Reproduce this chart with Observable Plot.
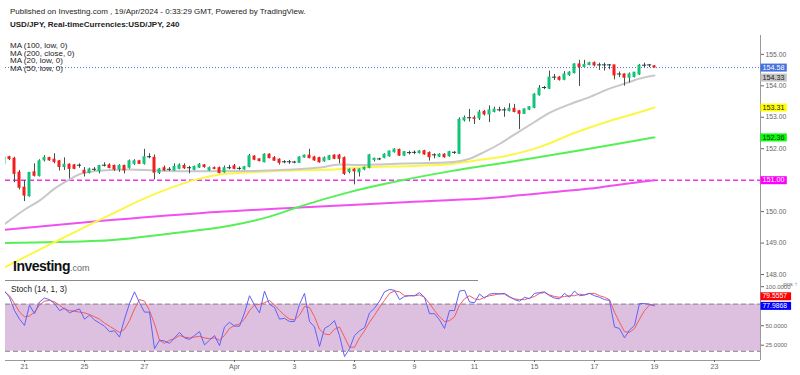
<!DOCTYPE html>
<html><head><meta charset="utf-8">
<script src="https://cdn.jsdelivr.net/npm/d3@7"></script>
<script src="https://cdn.jsdelivr.net/npm/@observablehq/plot@0.6"></script>
<style>
body{margin:0;background:#fff;}
#wrap{position:relative;width:800px;height:375px;overflow:hidden;font-family:"Liberation Sans",Arial,sans-serif;background:#fff;}
#wrap .abs{position:absolute;white-space:nowrap;}
.hdr{font-size:8px;line-height:8px;color:#222;}
.leg{font-size:8px;line-height:7.8px;color:#222;}
.logo{font-size:14px;line-height:14px;font-weight:bold;letter-spacing:-0.5px;color:#111;}
.logo span{font-size:9px;font-weight:normal;letter-spacing:0;color:#666;}
</style></head>
<body>
<div id="wrap">
  <div id="mainChart" class="abs" style="left:0;top:0"></div>
  <div id="stochChart" class="abs" style="left:0;top:278px"></div>
  <div class="abs hdr" style="left:10px;top:8px">Published on Investing.com , 19/Apr/2024 - 0:33:29 GMT, Powered by TradingView.</div>
  <div class="abs hdr" style="left:10px;top:21px;font-weight:bold">USD/JPY, Real-timeCurrencies:USD/JPY, 240</div>
  <div id="legend" class="abs leg" style="left:10px;top:41.8px"></div>
  <div class="abs logo" style="left:13px;top:259px">Investing<span>.com</span></div>
  <div id="stochTitle" class="abs" style="left:11px;top:286px;font-size:8.2px;line-height:8.2px;color:#222"></div>
</div>
<script>
// ---------- data ----------
const firstIdx = -4; // candle index of first row (Mar 20, 08:00); 6 candles per trading day
const ohlc = [
  [151.52,151.75,151.48,151.72],[151.73,151.76,151.62,151.67],[151.68,151.73,150.92,151.20],[151.24,151.31,150.69,150.76],
  [150.76,150.99,150.32,150.51],[150.49,151.25,150.46,151.23],[151.25,151.52,151.10,151.14],[151.13,151.65,151.10,151.60],
  [151.63,151.78,151.58,151.70],[151.70,151.73,151.60,151.63],[151.65,151.84,151.52,151.58],[151.60,151.63,151.29,151.42],
  [151.42,151.71,151.31,151.49],[151.49,151.52,151.04,151.36],[151.47,151.50,151.33,151.36],[151.46,151.52,151.38,151.46],
  [151.30,151.40,151.10,151.22],[151.23,151.38,151.20,151.34],[151.33,151.40,151.28,151.33],[151.29,151.47,151.20,151.45],
  [151.46,151.55,151.42,151.46],[151.47,151.52,151.36,151.39],[151.45,151.48,151.28,151.34],[151.34,151.49,151.25,151.45],
  [151.45,151.48,151.20,151.31],[151.39,151.64,151.35,151.60],[151.52,151.65,151.47,151.60],[151.60,151.63,151.50,151.52],
  [151.52,151.98,151.48,151.73],[151.73,151.84,151.68,151.73],[151.71,151.80,151.01,151.24],[151.23,151.37,151.18,151.34],
  [151.38,151.45,151.28,151.31],[151.33,151.40,151.28,151.33],[151.31,151.52,151.29,151.42],[151.36,151.52,151.33,151.47],
  [151.45,151.52,151.34,151.38],[151.38,151.44,151.20,151.38],[151.33,151.45,151.30,151.42],[151.40,151.53,151.37,151.49],
  [151.47,151.50,151.38,151.42],[151.31,151.42,151.28,151.38],[151.38,151.42,151.33,151.36],[151.38,151.42,151.20,151.23],
  [151.25,151.45,151.22,151.38],[151.38,151.47,151.33,151.38],[151.44,151.50,151.33,151.36],[151.36,151.42,151.31,151.36],
  [151.34,151.44,151.32,151.41],[151.42,151.82,151.39,151.76],[151.75,151.78,151.62,151.65],[151.66,151.68,151.58,151.61],
  [151.57,151.84,151.55,151.81],[151.81,151.84,151.68,151.70],[151.70,151.75,151.60,151.62],[151.65,151.68,151.48,151.55],
  [151.57,151.62,151.52,151.57],[151.57,151.63,151.50,151.57],[151.56,151.60,151.52,151.56],[151.55,151.75,151.53,151.72],
  [151.72,151.80,151.70,151.78],[151.78,151.98,151.68,151.70],[151.72,151.76,151.60,151.63],[151.70,151.73,151.54,151.57],
  [151.60,151.74,151.57,151.70],[151.65,151.79,151.62,151.76],[151.78,151.81,151.65,151.68],[151.78,151.82,151.52,151.68],
  [151.70,151.74,151.15,151.20],[151.26,151.36,151.20,151.33],[151.33,151.37,150.85,151.28],[151.25,151.36,151.10,151.34],
  [151.34,151.42,151.30,151.39],[151.39,151.82,151.36,151.79],[151.64,151.70,151.58,151.68],[151.66,151.70,151.62,151.66],
  [151.71,151.84,151.68,151.81],[151.76,151.93,151.73,151.91],[151.89,152.00,151.86,151.97],[151.96,151.99,151.76,151.78],
  [151.78,151.91,151.75,151.89],[151.86,151.92,151.80,151.86],[151.87,151.93,151.81,151.87],[151.86,151.94,151.83,151.91],
  [151.92,151.95,151.79,151.82],[151.86,151.90,151.61,151.73],[151.79,151.84,151.68,151.79],[151.75,151.84,151.72,151.81],
  [151.81,151.84,151.70,151.73],[151.76,151.92,151.73,151.89],[151.87,151.91,151.82,151.87],[151.84,152.98,151.82,152.92],
  [152.90,153.04,152.85,152.97],[152.97,153.25,152.85,152.97],[152.97,153.04,152.77,152.95],[152.97,153.22,152.90,153.15],
  [153.17,153.22,153.04,153.09],[153.09,153.36,152.83,153.22],[153.17,153.32,153.14,153.24],[153.22,153.32,153.17,153.22],
  [153.22,153.30,153.00,153.22],[153.20,153.43,153.17,153.27],[153.27,153.41,153.14,153.17],[153.19,153.22,152.61,153.11],
  [153.11,153.27,153.09,153.25],[153.24,153.34,153.21,153.32],[153.30,153.75,153.27,153.72],[153.70,154.01,153.67,153.91],
  [153.93,153.98,153.88,153.93],[153.91,154.47,153.88,154.26],[154.26,154.36,154.17,154.26],[154.26,154.30,154.15,154.19],
  [154.19,154.45,154.16,154.36],[154.34,154.45,154.30,154.42],[154.40,154.70,154.38,154.68],[154.68,154.81,153.98,154.60],
  [154.60,154.81,154.58,154.66],[154.66,154.75,154.64,154.72],[154.72,154.76,154.60,154.65],[154.65,154.72,154.49,154.65],
  [154.65,154.72,154.47,154.65],[154.65,154.68,154.51,154.65],[154.65,154.65,154.19,154.33],[154.36,154.44,154.26,154.36],
  [154.36,154.38,153.99,154.26],[154.26,154.41,154.09,154.36],[154.28,154.42,154.25,154.42],[154.36,154.68,154.33,154.64],
  [154.64,154.72,154.58,154.64],[154.65,154.68,154.58,154.65],[154.62,154.64,154.57,154.58]
];
// moving averages read at [candle index, price]
const ma20 = [[-4,149.60],[0,150.06],[3,150.35],[6,150.73],[9,151.02],[11,151.19],[15,151.30],[21,151.34],[26,151.31],[35,151.28],[45,151.29],[52,151.33],[59,151.40],[63,151.50],[67,151.48],[72,151.51],[79,151.54],[85,151.57],[89,151.68],[92,151.90],[95,152.15],[97,152.35],[102,152.85],[105,153.14],[109,153.41],[113,153.64],[117,153.91],[121,154.12],[123,154.23],[126,154.33]];
const ma50 = [[-4,148.23],[6,149.03],[14,149.66],[19,150.04],[23,150.35],[27,150.62],[35,151.05],[39,151.18],[45,151.25],[52,151.30],[62,151.34],[65,151.38],[79,151.46],[85,151.51],[90,151.62],[97,151.79],[103,152.05],[110,152.50],[117,152.88],[123,153.16],[126,153.31]];
const ma100 = [[-4,149.00],[15,149.07],[29,149.30],[41,149.55],[49,149.84],[55,150.16],[65,150.62],[75,150.98],[85,151.28],[97,151.58],[110,151.92],[123,152.28],[126,152.36]];
const ma200 = [[-4,149.42],[15,149.70],[35,149.95],[55,150.13],[75,150.29],[95,150.46],[107,150.64],[115,150.77],[123,150.94],[126,151.00]];
const stochK = [97,89,72,61,53,79,68,83,88,86, 81,72,75,69,72,74,61,66,60,56, 52,45,46,38,61,81,96,82,70,70, 23,34,33,30,37,44,37,35,40,45,
  28,34,40,27,51,57,52,52,69,91, 79,69,97,80,76,61,62,58,58,80, 94,58,51,26,49,53,59,40,13,23, 40,46,50,69,75,84,96,99,98,86,
  90,91,91,95,89,68,68,60,49,72, 72,97,98,83,82,93,88,93,94,93, 94,90,86,84,89,87,94,95,96,91, 88,87,94,89,97,91,92,94,91,89,
  86,85,51,49,37,47,53,81,81,80,77.99];
const stochD = [96,91,81,70,64,65,70,79,84,85, 83,79,74,72,71,70,69,67,64,61, 56,52,48,44,48,59,74,86,84,72, 55,34,30,34,36,40,38,37,38,39,
  37,36,37,34,40,49,53,55,61,72, 79,80,82,85,79,72,66,61,60,66, 77,76,64,48,42,41,48,51,38,25, 25,37,46,57,66,76,85,94,97,96,
  91,91,91,92,89,81,72,64,58,59, 64,79,87,91,87,86,89,91,92,94, 93,89,87,86,86,88,90,94,95,92, 90,89,90,91,91,93,92,94,94,91,
  89,86,70,57,45,44,49,61,72,79,79.56];
const lastPrice = 154.58;
const supportLevel = 151.00;
const priceTicks = [148,149,150,151,152,153,154,155];
const stochTicks = [25,50,100];
const stochBand = [20,80];
const dayTickIdx = [0,12,24,42,54,66,78,90,102,114,126,138];
const dayTickLabels = ["21","25","27","Apr","3","5","9","11","15","17","19","23"];
const legendLines = ["MA (100, low, 0)","MA (200, close, 0)","MA (20, low, 0)","MA (50, low, 0)"];
const stochName = "Stoch (14, 1, 3)";
const priceBadges = [
  {label:"154.58", value:154.58, bg:"#4671e0", fg:"#ffffff"},
  {label:"154.33", value:154.33, bg:"#c4c4c4", fg:"#222222"},
  {label:"153.31", value:153.31, bg:"#ffff00", fg:"#222222"},
  {label:"152.36", value:152.36, bg:"#00ff00", fg:"#222222"},
  {label:"151.00", value:151.00, bg:"#ff00ff", fg:"#ffffff"}
];
const stochBadges = [
  {label:"77.9868", value:77.9868, bg:"#0000ff", fg:"#ffffff"},
  {label:"79.5557", value:79.5557, bg:"#ff0000", fg:"#ffffff"}
];

// ---------- layout constants ----------
const X0 = -3.8, X1 = 147.2;          // visible candle-index range
const PX_PER_IDX = 755 / (X1 - X0);
const priceDomain = [147.81, 155.6];
const stochDomain = [8, 110.5];
const sepEndIdx = 90.8;
const FONT = "'Liberation Sans', Arial, sans-serif";

document.getElementById("legend").innerHTML = legendLines.map(t => `<div>${t}</div>`).join("");
document.getElementById("stochTitle").textContent = stochName;

const candles = ohlc.map(([o,h,l,c],k) => ({i: firstIdx + k, o, h, l, c}));
const isDoji = d => Math.abs(d.c - d.o) < 0.005;
const bodyFill = d => isDoji(d) ? "#2e3a34" : (d.c > d.o ? "#12c47a" : "#f51c1c");
const kPts = stochK.map((v,k) => [firstIdx + k, v]);
const dPts = stochD.map((v,k) => [firstIdx + k, v]);

function placeBadges(list, gap) {
  const placed = [];
  for (const b of list) {
    let pos = b.value;
    for (const p of placed) {
      if (Math.abs(pos - p.pos) < gap) pos = pos < p.pos ? p.pos - gap : p.pos + gap;
    }
    placed.push({...b, pos, w: b.label.length * 4.3 + 1});
  }
  return placed;
}
const mainGap = 10 * (priceDomain[1] - priceDomain[0]) / 245;
const stochGap = 9.6 * (stochDomain[1] - stochDomain[0]) / 80;
const pBadges = placeBadges(priceBadges, mainGap);
const sBadges = placeBadges(stochBadges, stochGap);
// tick labels hidden behind a badge are left out
const visibleTicks = (ticks, badges, gap) => ticks.filter(t => !badges.some(b => Math.abs(b.pos - t) < gap * 0.6));

const badgeMarks = (list, fs) => [
  Plot.ruleY(list, {y: "pos", x1: X1 + 0.1, x2: d => X1 + d.w / PX_PER_IDX, stroke: "bg", strokeWidth: 8}),
  Plot.text(list, {y: "pos", x: X1, dx: 2, text: "label", fill: "fg", textAnchor: "start", fontSize: fs})
];
const line = (data, color, w) => Plot.line(data, {x: d => d[0], y: d => d[1], stroke: color, strokeWidth: w, curve: "monotone-x", clip: true});

const main = Plot.plot({
  width: 800, height: 282,
  marginLeft: 5, marginRight: 40, marginTop: 35, marginBottom: 2,
  x: {domain: [X0, X1], axis: null},
  y: {domain: priceDomain, axis: null},
  color: {type: "identity"},
  style: {fontFamily: FONT, background: "transparent", overflow: "visible"},
  marks: [
    Plot.ruleY([supportLevel], {stroke: "#ee33ee", strokeWidth: 1.5, strokeDasharray: "5,3"}),
    Plot.ruleY([lastPrice], {stroke: "#4a6fe8", strokeWidth: 1, strokeDasharray: "1,2"}),
    line(ma200, "#f050f0", 2),
    line(ma100, "#55f055", 2),
    line(ma50, "#fcf646", 2),
    line(ma20, "#c8c8c8", 2),
    Plot.ruleX(candles, {x: "i", y1: "l", y2: "h", stroke: "#3d5248", strokeWidth: 1, clip: true}),
    Plot.rect(candles, {x1: d => d.i - (isDoji(d) ? 0.42 : 0.3), x2: d => d.i + (isDoji(d) ? 0.42 : 0.3), y1: "o", y2: "c", fill: bodyFill, insetTop: -0.5, insetBottom: -0.5, clip: true}),
    Plot.ruleX([X1], {stroke: "#9a9a9a"}),
    Plot.axisY(visibleTicks(priceTicks, pBadges, mainGap), {anchor: "right", tickSize: 3, tickPadding: 2, tickFormat: d => d.toFixed(2), fontSize: 6.8, color: "#666"}),
    ...badgeMarks(pBadges, 7.2)
  ]
});
document.getElementById("mainChart").appendChild(main);

const labelMap = new Map(dayTickIdx.map((d,i) => [d, dayTickLabels[i]]));
const stoch = Plot.plot({
  width: 800, height: 97,
  marginLeft: 5, marginRight: 40, marginTop: 2, marginBottom: 15,
  x: {domain: [X0, X1], axis: null},
  y: {domain: stochDomain, axis: null},
  color: {type: "identity"},
  style: {fontFamily: FONT, background: "transparent", overflow: "visible"},
  marks: [
    Plot.rect([stochBand], {x1: X0, x2: X1, y1: d => d[0], y2: d => d[1], fill: "#ddc0e0"}),
    Plot.ruleY(stochBand, {stroke: "#a898a8", strokeWidth: 1.5, strokeDasharray: "5,3"}),
    Plot.line(dPts, {x: d => d[0], y: d => d[1], stroke: "#f45a5a", strokeWidth: 1, clip: true}),
    Plot.line(kPts, {x: d => d[0], y: d => d[1], stroke: "#6060f8", strokeWidth: 1, clip: true}),
    Plot.ruleY([stochDomain[1]], {x1: X0, x2: sepEndIdx, stroke: "#8a8a8a"}),
    Plot.ruleY([stochDomain[0]], {stroke: "#9a9a9a"}),
    Plot.ruleX([X1], {stroke: "#9a9a9a"}),
    Plot.axisX(dayTickIdx, {anchor: "bottom", tickSize: 2, tickPadding: 2, tickFormat: d => labelMap.get(d), fontSize: 7, color: "#666"}),
    Plot.axisY(visibleTicks(stochTicks, sBadges, stochGap), {anchor: "right", tickSize: 3, tickPadding: 2, tickFormat: d => d.toFixed(4), fontSize: 6, color: "#666", dy: -2}),
    ...badgeMarks(sBadges, 6.8)
  ]
});
document.getElementById("stochChart").appendChild(stoch);
</script>
</body></html>
